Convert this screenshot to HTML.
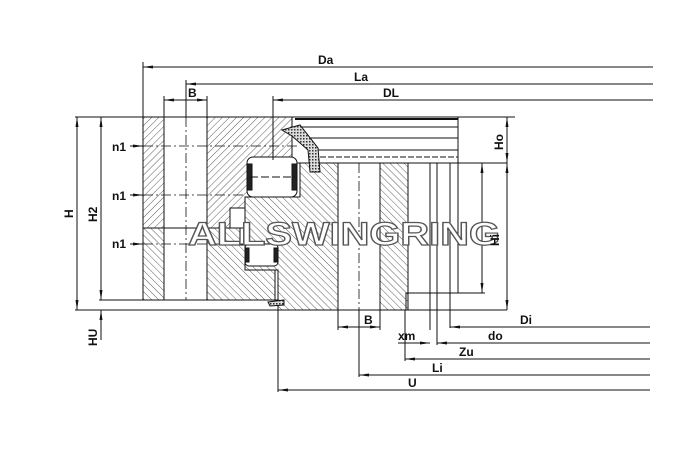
<!DOCTYPE html>
<html><head><meta charset="utf-8"><style>
html,body{margin:0;padding:0;background:#fff;}
svg{display:block;}
text{font-family:"Liberation Sans",sans-serif;font-weight:bold;fill:#111;}
</style></head><body>
<svg width="685" height="472" viewBox="0 0 685 472" xmlns="http://www.w3.org/2000/svg">
<defs>
<pattern id="hb" width="5" height="5" patternUnits="userSpaceOnUse" patternTransform="rotate(45)">
<line x1="0" y1="0" x2="0" y2="5" stroke="#333" stroke-width="0.8"/></pattern>
<pattern id="hf" width="5" height="5" patternUnits="userSpaceOnUse" patternTransform="rotate(-45)">
<line x1="0" y1="0" x2="0" y2="5" stroke="#333" stroke-width="0.8"/></pattern>
<pattern id="dots" width="3" height="3" patternUnits="userSpaceOnUse">
<rect width="3" height="3" fill="#ddd"/><rect width="1.5" height="1.5" fill="#333"/></pattern>
<marker id="ar" markerWidth="10" markerHeight="6" refX="10" refY="3" orient="auto" markerUnits="userSpaceOnUse">
<path d="M0,1.5 L10,3 L0,4.5z" fill="#111"/></marker>
<marker id="al" markerWidth="10" markerHeight="6" refX="0" refY="3" orient="auto" markerUnits="userSpaceOnUse">
<path d="M10,1.5 L0,3 L10,4.5z" fill="#111"/></marker>
</defs>
<g stroke="#111" stroke-width="1" fill="none">
<!-- outer ring -->
<rect x="143" y="117" width="21" height="111" fill="url(#hb)"/>
<rect x="143" y="228" width="21" height="72" fill="url(#hf)"/>
<rect x="207" y="117" width="85" height="111" fill="url(#hb)"/>
<polygon points="207,228 240,228 240,245 275,245 275,300 207,300" fill="url(#hf)"/>
<rect x="164" y="117" width="43" height="183" fill="#fff"/>
<line x1="143" y1="300" x2="280" y2="300"/>
<line x1="143" y1="228" x2="245" y2="228"/>
<!-- inner ring -->
<polygon points="245,197 300,197 300,163 338,163 338,310 278,310 278,270 245,270" fill="#fff"/>
<polygon points="245,197 300,197 300,163 338,163 338,310 278,310 278,270 245,270" fill="url(#hf)"/>
<rect x="380" y="163" width="28" height="147" fill="url(#hf)"/>
<rect x="338" y="163" width="42" height="147" fill="#fff"/>
<rect x="408" y="163" width="50" height="130" fill="#fff"/>
<polyline points="406,310 406,293 458,293"/>
<line x1="430" y1="163" x2="430" y2="330"/>
<line x1="437" y1="163" x2="437" y2="345"/>
<line x1="450" y1="163" x2="450" y2="328"/>
<line x1="458" y1="163" x2="458" y2="293"/>
<line x1="338" y1="310" x2="507" y2="310"/>
<line x1="75" y1="310" x2="280" y2="310"/>
<!-- top cover -->
<rect x="292" y="117" width="166" height="46" fill="#fff"/>
<line x1="295" y1="119" x2="458" y2="119" stroke-width="2"/>
<line x1="295" y1="127" x2="458" y2="127"/>
<line x1="300" y1="138" x2="458" y2="138"/>
<line x1="310" y1="150" x2="458" y2="150"/>
<line x1="320" y1="157" x2="458" y2="157" stroke-dasharray="6,2"/>
<line x1="292" y1="163" x2="507" y2="163"/>
<line x1="458" y1="117" x2="515" y2="117"/>
<path d="M282,130 L300,125 L318,148 L320,172 L310,172 L308,150 L292,136 Z" fill="url(#dots)"/>
<!-- rollers -->
<rect x="247" y="157" width="50" height="40" rx="6" fill="#fff"/>
<rect x="247" y="164" width="5" height="26" fill="#222"/>
<rect x="292" y="164" width="5" height="26" fill="#222"/>
<line x1="250" y1="177" x2="295" y2="177" stroke-dasharray="8,3"/>
<rect x="245" y="244" width="33" height="22" rx="4" fill="#fff"/>
<rect x="245" y="248" width="4" height="14" fill="#222"/>
<rect x="274" y="248" width="4" height="14" fill="#222"/>
<rect x="230" y="208" width="15" height="20" fill="#fff"/>
<path d="M268,302 L284,300 L284,305 L270,306 Z" fill="url(#dots)"/>
<!-- centerlines -->
<line x1="143" y1="146" x2="300" y2="146" stroke-dasharray="10,3,2,3" stroke-width="0.8"/>
<line x1="143" y1="195" x2="245" y2="195" stroke-dasharray="10,3,2,3" stroke-width="0.8"/>
<line x1="143" y1="244" x2="245" y2="244" stroke-dasharray="10,3,2,3" stroke-width="0.8"/>
<line x1="186" y1="117" x2="186" y2="300" stroke-dasharray="10,3,2,3" stroke-width="0.8"/>
<line x1="359" y1="163" x2="359" y2="310" stroke-dasharray="10,3,2,3" stroke-width="0.8"/>
<!-- dimension lines top -->
<line x1="143" y1="62" x2="143" y2="117"/>
<line x1="186" y1="80" x2="186" y2="117"/>
<line x1="164" y1="96" x2="164" y2="117"/>
<line x1="207" y1="96" x2="207" y2="117"/>
<line x1="273" y1="96" x2="273" y2="160"/>
<line x1="143" y1="67" x2="653" y2="67" marker-start="url(#al)"/>
<line x1="186" y1="84" x2="653" y2="84" marker-start="url(#al)"/>
<line x1="273" y1="100" x2="653" y2="100" marker-start="url(#al)"/>
<line x1="164" y1="100" x2="207" y2="100" marker-start="url(#al)" marker-end="url(#ar)"/>
<!-- left dims -->
<line x1="75" y1="117" x2="143" y2="117"/>
<line x1="77" y1="117" x2="77" y2="310" marker-start="url(#al)" marker-end="url(#ar)"/>
<line x1="101" y1="117" x2="101" y2="300" marker-start="url(#al)" marker-end="url(#ar)"/>
<line x1="99" y1="300" x2="143" y2="300"/>
<line x1="101" y1="340" x2="101" y2="310" marker-end="url(#ar)"/>
<line x1="130" y1="146" x2="143" y2="146" marker-end="url(#ar)"/>
<line x1="130" y1="195" x2="143" y2="195" marker-end="url(#ar)"/>
<line x1="130" y1="244" x2="143" y2="244" marker-end="url(#ar)"/>
<!-- right dims -->
<line x1="507" y1="117" x2="507" y2="163" marker-start="url(#al)" marker-end="url(#ar)"/>
<line x1="507" y1="163" x2="507" y2="310" marker-start="url(#al)" marker-end="url(#ar)"/>
<line x1="458" y1="293" x2="485" y2="293"/>
<line x1="482" y1="163" x2="482" y2="293" marker-start="url(#al)" marker-end="url(#ar)"/>
<!-- bottom dims -->
<line x1="278" y1="305" x2="278" y2="392"/>
<line x1="359" y1="310" x2="359" y2="377"/>
<line x1="338" y1="310" x2="338" y2="330"/>
<line x1="380" y1="310" x2="380" y2="330"/>
<line x1="405" y1="310" x2="405" y2="361"/>
<line x1="338" y1="327" x2="380" y2="327" marker-start="url(#al)" marker-end="url(#ar)"/>
<line x1="450" y1="327" x2="650" y2="327" marker-start="url(#al)"/>
<line x1="398" y1="343" x2="430" y2="343" marker-end="url(#ar)"/>
<line x1="437" y1="343" x2="650" y2="343" marker-start="url(#al)"/>
<line x1="405" y1="359" x2="650" y2="359" marker-start="url(#al)"/>
<line x1="359" y1="375" x2="650" y2="375" marker-start="url(#al)"/>
<line x1="278" y1="390" x2="650" y2="390" marker-start="url(#al)"/>
</g>
<!-- watermark -->
<text x="188" y="245" font-size="32" style="font-family:'Liberation Sans',sans-serif;font-weight:bold;fill:#fff;stroke:#555;stroke-width:1.2;" textLength="312" lengthAdjust="spacingAndGlyphs">ALLSWINGRING</text>
<!-- labels -->
<text x="318" y="64" font-size="12">Da</text>
<text x="354" y="81" font-size="12">La</text>
<text x="188" y="97" font-size="12">B</text>
<text x="383" y="97" font-size="12">DL</text>
<text x="112" y="151" font-size="12">n1</text>
<text x="112" y="200" font-size="12">n1</text>
<text x="112" y="248" font-size="12">n1</text>
<text x="520" y="324" font-size="12">Di</text>
<text x="364" y="324" font-size="12">B</text>
<text x="398" y="340" font-size="12">xm</text>
<text x="488" y="340" font-size="12">do</text>
<text x="459" y="356" font-size="12">Zu</text>
<text x="432" y="372" font-size="12">Li</text>
<text x="408" y="387" font-size="12">U</text>
<text font-size="12" transform="translate(73,218) rotate(-90)">H</text>
<text font-size="12" transform="translate(97,222) rotate(-90)">H2</text>
<text font-size="12" transform="translate(97,346) rotate(-90)">HU</text>
<text font-size="12" transform="translate(503,150) rotate(-90)">Ho</text>
<text font-size="12" transform="translate(499,246) rotate(-90)">Hi</text>
</svg>
</body></html>
